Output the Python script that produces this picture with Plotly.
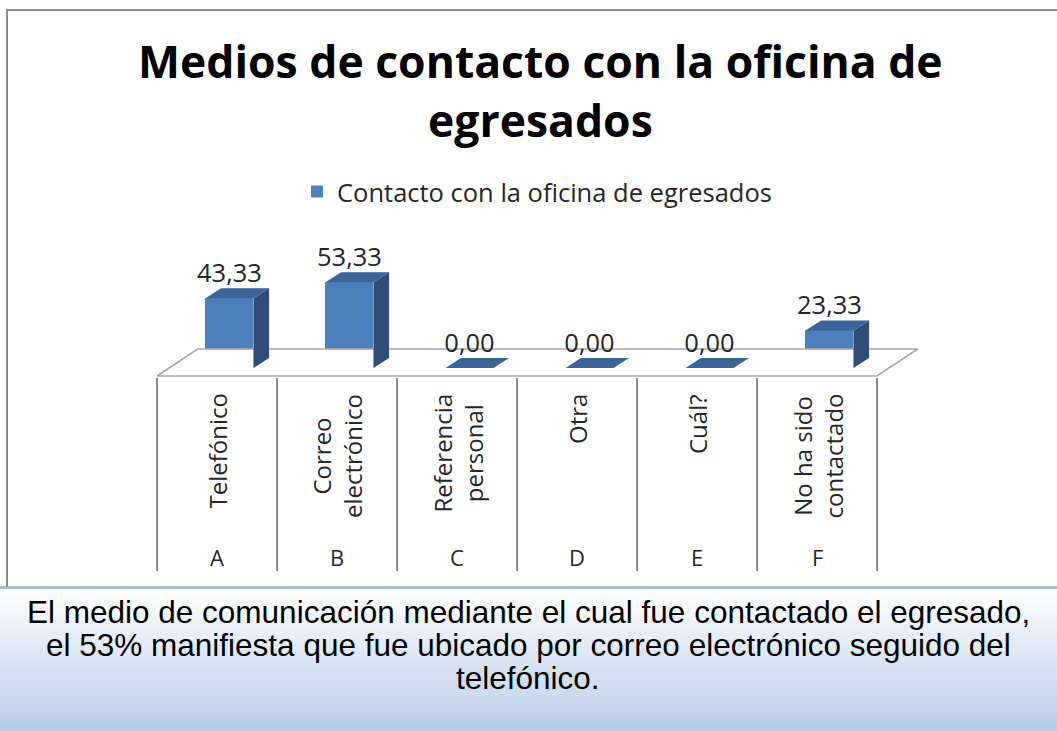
import plotly.graph_objects as go

W, H = 1057, 731

# ---- data ----
CATEGORIES = ["Telefónico", "Correo<br>electrónico", "Referencia<br>personal", "Otra", "Cuál?",
              "No ha sido<br>contactado"]
LETTERS = ["A", "B", "C", "D", "E", "F"]
VALUES = [43.33, 53.33, 0.00, 0.00, 0.00, 23.33]
SERIES = "Contacto con la oficina de egresados"
TITLE = ["Medios de contacto con la oficina de", "egresados"]
NOTE = [
    "El medio de comunicación mediante el cual fue contactado el egresado,",
    "el 53% manifiesta que fue ubicado por correo electrónico seguido del",
    "telefónico.",
]

FRONT = "#4f81bd"
TOP = "#3c6496"
SIDE = "#2f4d77"
GRID = "#8c8c8c"
TEXT = "#262626"
FONT = "Open Sans"

# pixel geometry of the plot area (category band 120px wide)
PX_PER_UNIT = 1.61
Y_ZERO = 368          # pixel row of bar bottoms
Y_DOM_BOT = 377
Y_DOM_TOP = 230
X_LEFT = 157
BAND = 120
X_EXTRA = 0.5         # room on the right for the floor's back corner

SHIFT = 0.104         # perspective shift of bars inside the band
BAR_W = 0.40
DX = 0.13             # depth offset (x units)
DY = 10 / PX_PER_UNIT  # depth offset (y units)


def py(p):
    return 1 - p / H


n = len(VALUES)
xs = [i + SHIFT for i in range(n)]

fig = go.Figure()

# floor (3D plane under the bars)
f_front = -(376 - Y_ZERO) / PX_PER_UNIT
f_back = f_front + 27 / PX_PER_UNIT
f_dx = 0.34
fig.add_trace(go.Scatter(
    x=[-0.5, n - 0.5, n - 0.5 + f_dx, -0.5 + f_dx, -0.5],
    y=[f_front, f_front, f_back, f_back, f_front],
    mode="lines", fill="toself", fillcolor="white",
    line=dict(color="#a6a6a6", width=1.5), hoverinfo="skip", showlegend=False,
))

# front faces
fig.add_trace(go.Bar(
    x=xs, y=VALUES, base=0, width=BAR_W, name=SERIES,
    marker=dict(color=FRONT, line=dict(width=0)),
))

# side and top faces
sx, sy, tx, ty = [], [], [], []
for x, v in zip(xs, VALUES):
    xl, xr = x - BAR_W / 2, x + BAR_W / 2
    sx += [xr, xr + DX, xr + DX, xr, xr, None]
    sy += [0, DY, v + DY, v, 0, None]
    tx += [xl, xr, xr + DX, xl + DX, xl, None]
    ty += [v, v, v + DY, v + DY, v, None]
fig.add_trace(go.Scatter(x=sx, y=sy, mode="lines", fill="toself", fillcolor=SIDE,
                         line=dict(width=0, color=SIDE), hoverinfo="skip", showlegend=False))
fig.add_trace(go.Scatter(x=tx, y=ty, mode="lines", fill="toself", fillcolor=TOP,
                         line=dict(width=0, color=TOP), hoverinfo="skip", showlegend=False))

# value labels
fig.add_trace(go.Scatter(
    x=xs, y=[v + DY for v in VALUES], mode="text",
    text=[f"{v:.2f}".replace(".", ",") for v in VALUES],
    textposition="top center", textfont=dict(family=FONT, size=25.5, color=TEXT),
    cliponaxis=False, hoverinfo="skip", showlegend=False,
))

# category table labels
for i, (cat, letter) in enumerate(zip(CATEGORIES, LETTERS)):
    fig.add_annotation(x=i, y=py(392), xref="x", yref="paper", text=cat, textangle=-90,
                       showarrow=False, xanchor="center", yanchor="top", align="center",
                       font=dict(family=FONT, size=24, color=TEXT))
    fig.add_annotation(x=i, y=py(557), xref="x", yref="paper", text=letter,
                       showarrow=False, xanchor="center", yanchor="middle",
                       font=dict(family=FONT, size=22, color=TEXT))

# title
for j, line in enumerate(TITLE):
    fig.add_annotation(x=540 / W, y=py(61 + 58 * j), xref="paper", yref="paper", text=line,
                       showarrow=False, xanchor="center", yanchor="middle",
                       font=dict(family=FONT, size=44.5, color="#000000", weight="bold"))

# bottom note
for j, line in enumerate(NOTE):
    fig.add_annotation(x=528 / W, y=py(612 + 33 * j), xref="paper", yref="paper", text=line,
                       showarrow=False, xanchor="center", yanchor="middle",
                       font=dict(family="Liberation Sans", size=31.5, color="#000000"))

shapes = [dict(type="rect", xref="paper", yref="paper", x0=7 / W, x1=1.05, y0=py(640), y1=py(10),
               line=dict(color=GRID, width=2), fillcolor="rgba(0,0,0,0)", layer="below")]
# gradient panel at the bottom
top_px, bot_px = 588, H
steps = 72
for k in range(steps):
    p0 = top_px + (bot_px - top_px) * k / steps
    p1 = top_px + (bot_px - top_px) * (k + 1) / steps
    t = (k + 0.5) / steps
    r = round(255 + (185 - 255) * t)
    g = round(255 + (204 - 255) * t)
    b = round(255 + (229 - 255) * t)
    shapes.append(dict(type="rect", xref="paper", yref="paper", x0=0, x1=1, y0=py(p1 + 0.5), y1=py(p0),
                       line=dict(width=0), fillcolor=f"rgb({r},{g},{b})", layer="above"))
shapes.append(dict(type="line", xref="paper", yref="paper", x0=0, x1=1, y0=py(587.5), y1=py(587.5),
                   line=dict(color="#95b3d7", width=2.5), layer="above"))

fig.update_layout(
    width=W, height=H, margin=dict(l=0, r=0, t=0, b=0),
    paper_bgcolor="white", plot_bgcolor="rgba(0,0,0,0)",
    showlegend=True,
    legend=dict(orientation="h", x=297 / W, xanchor="left", y=py(192), yanchor="middle",
                font=dict(family=FONT, size=25.5, color=TEXT), bgcolor="rgba(0,0,0,0)"),
    bargap=0, shapes=shapes,
)
fig.update_xaxes(domain=[X_LEFT / W, (X_LEFT + BAND * (n + X_EXTRA)) / W],
                 range=[-0.5, n - 0.5 + X_EXTRA],
                 tickvals=[i - 0.5 for i in range(n + 1)], showticklabels=False,
                 ticks="outside", ticklen=570 - Y_DOM_BOT, tickwidth=2, tickcolor=GRID,
                 showgrid=False, zeroline=False, showline=False)
fig.update_yaxes(domain=[py(Y_DOM_BOT), py(Y_DOM_TOP)],
                 range=[-(Y_DOM_BOT - Y_ZERO) / PX_PER_UNIT, (Y_ZERO - Y_DOM_TOP) / PX_PER_UNIT],
                 visible=False)

fig.write_html("out.html", config={"displayModeBar": False},
               post_script="document.body.style.margin='0';")
